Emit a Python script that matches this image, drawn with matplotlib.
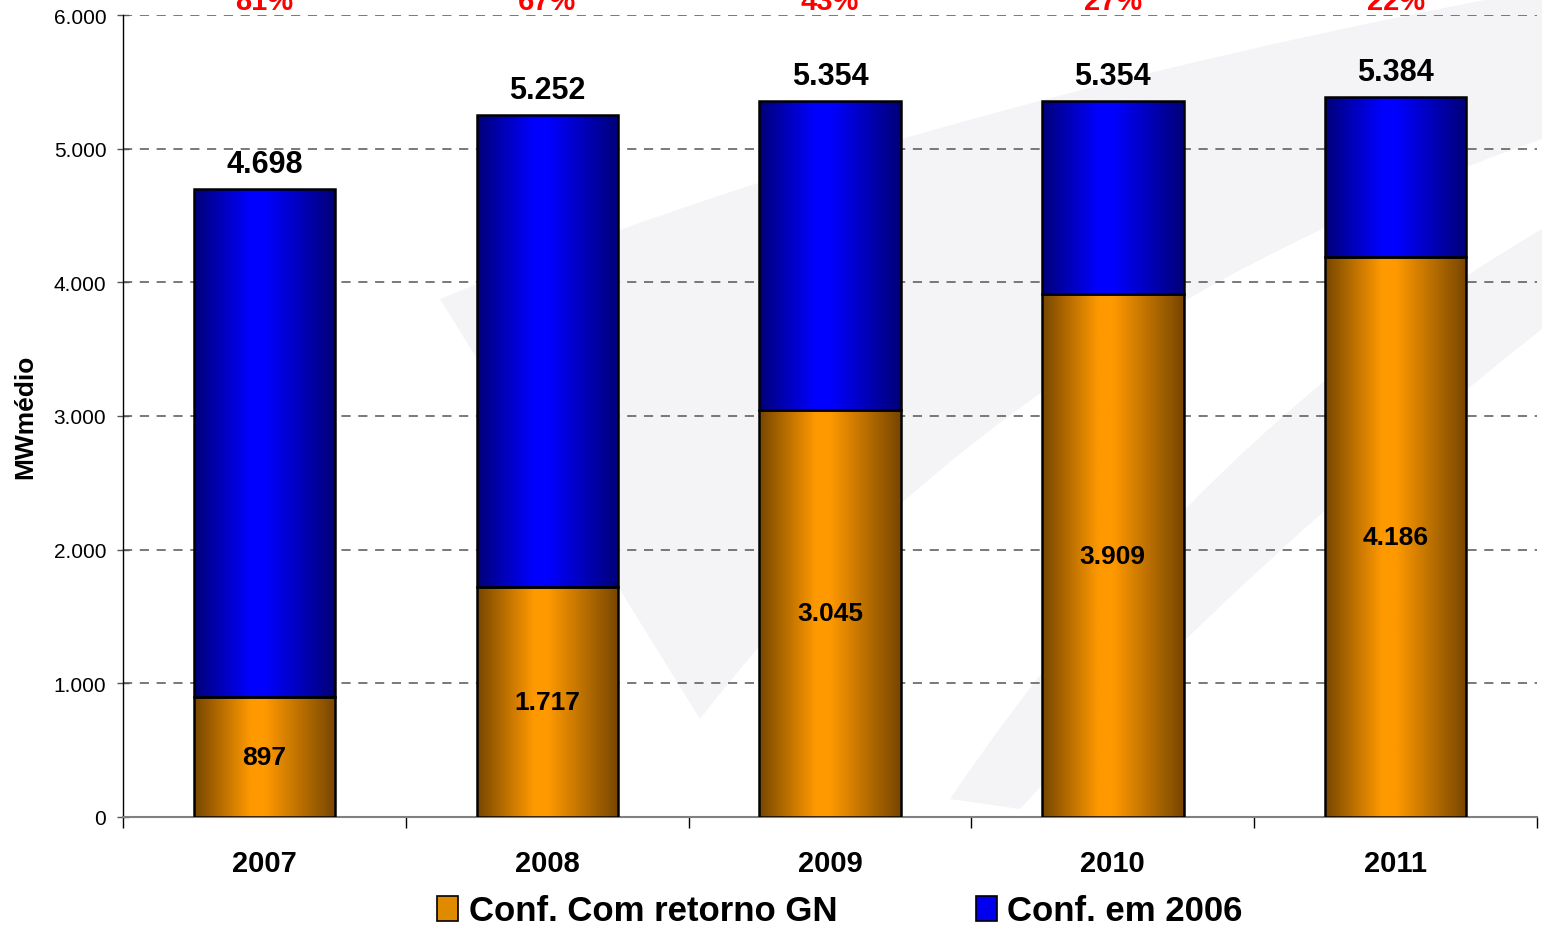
import numpy as np
import matplotlib
matplotlib.use('Agg')
import matplotlib.pyplot as plt
from matplotlib.colors import LinearSegmentedColormap
from matplotlib.patches import Patch, PathPatch
from matplotlib.path import Path
from matplotlib.ticker import FuncFormatter

plt.rcParams['font.family'] = ['Liberation Sans', 'DejaVu Sans']

# MW medio por ano
anos = ['2007', '2008', '2009', '2010', '2011']
conf_gn = [897, 1717, 3045, 3909, 4186]
totais = [4698, 5252, 5354, 5354, 5384]
pct_2006 = ['81%', '67%', '43%', '27%', '22%']
conf_2006 = [t - g for t, g in zip(totais, conf_gn)]


def fmt_milhar(v):
    return '{:,.0f}'.format(v).replace(',', '.')


def gradiente(escuro, claro):
    return LinearSegmentedColormap.from_list(
        'g', [(0.0, escuro), (0.4, claro), (0.5, claro), (1.0, escuro)])


cmap_laranja = gradiente('#774600', '#ff9900')
cmap_azul = gradiente('#000078', '#0000ff')

fig = plt.figure(figsize=(15.42, 9.37), dpi=100)
W, H = 1542.0, 937.0


def fp(x, y):
    return (x / W, 1 - y / H)


# marca d'agua cinza ao fundo (duas faixas curvas)
faixas = [
    [(440, 300), (900, 110), (1542, -10), (1542, 140), (1000, 330), (700, 720)],
    [(950, 800), (1200, 430), (1542, 230), (1542, 330), (1250, 560), (1020, 810)],
]
for a, c1, b, d, c2, e in faixas:
    verts = [fp(*a), fp(*c1), fp(*b), fp(*d), fp(*c2), fp(*e), fp(*a)]
    codes = [Path.MOVETO, Path.CURVE3, Path.CURVE3, Path.LINETO,
             Path.CURVE3, Path.CURVE3, Path.CLOSEPOLY]
    fig.patches.append(PathPatch(Path(verts, codes), transform=fig.transFigure,
                                 facecolor='#f4f4f7', edgecolor='none', zorder=-1))

ax = fig.add_axes([123 / W, 1 - 818 / H, 1414 / W, 802 / H])
ax.set_facecolor('none')

x = np.arange(len(anos))
largura = 0.5

b1 = ax.bar(x, conf_gn, width=largura, facecolor='none', edgecolor='black',
            linewidth=1.8, zorder=4)
b2 = ax.bar(x, conf_2006, width=largura, bottom=conf_gn, facecolor='none',
            edgecolor='black', linewidth=1.8, zorder=4)

grad = np.linspace(0, 1, 256).reshape(1, -1)
for barras, cmap in ((b1, cmap_laranja), (b2, cmap_azul)):
    for p in barras:
        x0, y0 = p.get_x(), p.get_y()
        im = ax.imshow(grad, cmap=cmap, aspect='auto', zorder=3,
                       extent=[x0, x0 + p.get_width(), y0, y0 + p.get_height()])
        im.set_clip_path(p)

ax.set_xlim(-0.5, len(anos) - 0.5)
ax.set_ylim(0, 6000)

# rotulos
for i in range(len(anos)):
    ax.text(x[i], conf_gn[i] / 2, fmt_milhar(conf_gn[i]), ha='center', va='center',
            fontsize=19, fontweight='bold', zorder=5)
    ax.annotate(fmt_milhar(totais[i]), (x[i], totais[i]), xytext=(0, 18),
                textcoords='offset points', ha='center', va='center',
                fontsize=22, fontweight='bold', zorder=5)
    ax.text(x[i], 6105, pct_2006[i], ha='center', va='center', color='#ff0000',
            fontsize=21, fontweight='bold', clip_on=False)

# eixos
ax.set_yticks(np.arange(0, 6001, 1000))
ax.yaxis.set_major_formatter(FuncFormatter(lambda v, pos: fmt_milhar(v)))
ax.tick_params(axis='y', direction='inout', length=8, width=1, color='#555555',
               labelsize=15, pad=8)
ax.yaxis.grid(True, linestyle=(0, (6, 5)), color='#555555', linewidth=1.1, zorder=1)
ax.set_axisbelow(True)

ax.set_xticks(np.arange(-0.5, len(anos), 1.0))
ax.set_xticklabels([])
ax.set_xticks(x, minor=True)
ax.set_xticklabels(anos, minor=True, fontsize=21, fontweight='bold')
ax.tick_params(axis='x', which='major', direction='out', length=8, width=1,
               color='black')
ax.tick_params(axis='x', which='minor', length=0, pad=23)

for lado in ('top', 'right'):
    ax.spines[lado].set_visible(False)
ax.spines['left'].set_linewidth(1.0)
ax.spines['bottom'].set_color('#808080')
ax.spines['bottom'].set_linewidth(1.5)

ax.set_ylabel('MWmédio', fontsize=19, fontweight='bold')
ax.yaxis.set_label_coords((37 - 123) / 1414, 0.5)

legenda = [Patch(facecolor='#e08a00', edgecolor='black', linewidth=1.2,
                 label='Conf. Com retorno GN'),
           Patch(facecolor='#0000ee', edgecolor='black', linewidth=1.2,
                 label='Conf. em 2006')]
fig.legend(handles=legenda, loc='center', bbox_to_anchor=fp(840, 912), ncol=2,
           frameon=False, prop={'size': 25, 'weight': 'bold'},
           handlelength=0.6, handleheight=0.7, handletextpad=0.3,
           columnspacing=4.0)

fig.savefig('out.png', dpi=100)
